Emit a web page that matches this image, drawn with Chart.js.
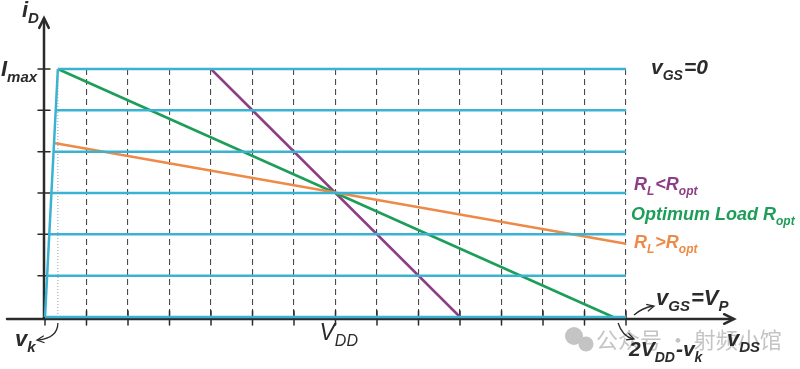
<!DOCTYPE html>
<html>
<head>
<meta charset="utf-8">
<script src="https://cdn.jsdelivr.net/npm/chart.js@4.4.0/dist/chart.umd.min.js"></script>
<style>
  html, body { margin: 0; padding: 0; background: #fff; }
  #wrap { width: 800px; height: 369px; position: relative; }
</style>
</head>
<body>
<div id="wrap"><canvas id="chart"></canvas></div>
<script>
// Chart data (vDS in grid steps, iD in grid steps)
const vdsTicks = [0, 1, 2, 3, 4, 5, 6, 7, 8, 9, 10, 11, 12, 13, 14];
const idLevels = [0, 1, 2, 3, 4, 5, 6];
const kneeStartX = [0, 0.05, 0.10, 0.16, 0.21, 0.26, 0.31];
const vk = 0.31;
const vdd = 7;
const iMax = 6;
const vdsMax = 14;

const kneeX = [0, 0.31];
const kneeY = [0, 6];
const optimumX = [0.31, 13.69];
const optimumY = [6, 0];
const lowLoadX = [4, 10];
const lowLoadY = [6, 0];
const highLoadX = [0.22, 14];
const highLoadY = [4.21, 1.77];

// Colours
const CYAN = '#3ab3d3';
const GREEN = '#1c9d58';
const PURPLE = '#8c3d86';
const ORANGE = '#ee8a47';
const AXIS = '#2b2b2b';
const FONT = '"Liberation Sans", Arial, sans-serif';

const toPoints = (xs, ys) => xs.map((x, i) => ({ x: x, y: ys[i] }));

function lineSet(data, color, width, dash) {
    return {
        data: data,
        showLine: true,
        borderColor: color,
        borderWidth: width,
        borderDash: dash || [],
        pointRadius: 0,
        fill: false,
        clip: false
    };
}

const datasets = [];
// Knee (dotted vk marker)
datasets.push(lineSet(toPoints([vk, vk], [0, iMax]), '#8aa0a8', 1, [1, 2]));
// Constant vGS curves
idLevels.forEach((lvl, i) => {
    datasets.push(lineSet(toPoints([kneeStartX[i], vdsMax], [lvl, lvl]), CYAN, 2.5));
});
datasets.push(lineSet(toPoints(kneeX, kneeY), CYAN, 2.5));
// Load lines
datasets.push(lineSet(toPoints(highLoadX, highLoadY), ORANGE, 2.5));
datasets.push(lineSet(toPoints(optimumX, optimumY), GREEN, 2.5));
datasets.push(lineSet(toPoints(lowLoadX, lowLoadY), PURPLE, 2.5));

// Draw text with subscripts: parts = [[text, sub], ...]
function drawLabel(ctx, parts, x, y, size, color, weight) {
    ctx.save();
    ctx.fillStyle = color;
    ctx.textBaseline = 'alphabetic';
    ctx.textAlign = 'left';
    let cx = x;
    parts.forEach(([txt, sub]) => {
        const s = sub ? Math.round(size * 0.68) : size;
        ctx.font = `italic ${weight} ${s}px ${FONT}`;
        ctx.fillText(txt, cx, sub ? y + size * 0.28 : y);
        cx += ctx.measureText(txt).width + (sub ? 1 : 0);
    });
    ctx.restore();
}

function arrowHead(ctx, x, y, angle, len) {
    ctx.beginPath();
    ctx.moveTo(x - len * Math.cos(angle - 0.45), y - len * Math.sin(angle - 0.45));
    ctx.lineTo(x, y);
    ctx.lineTo(x - len * Math.cos(angle + 0.45), y - len * Math.sin(angle + 0.45));
    ctx.stroke();
}

const axesPlugin = {
    id: 'axesPlugin',
    beforeDatasetsDraw(chart) {
        const ctx = chart.ctx;
        const xs = chart.scales.x, ys = chart.scales.y;
        const x0 = xs.getPixelForValue(0);
        const y0 = ys.getPixelForValue(0) + 2;
        ctx.save();
        ctx.strokeStyle = AXIS;
        ctx.lineWidth = 2.5;
        ctx.lineCap = 'round';
        // y axis with arrow
        ctx.beginPath();
        ctx.moveTo(x0 - 1, y0);
        ctx.lineTo(x0 - 1, 19);
        ctx.stroke();
        arrowHead(ctx, x0 - 1, 18, -Math.PI / 2, 11);
        // x axis with arrow
        ctx.beginPath();
        ctx.moveTo(7, y0);
        ctx.lineTo(733, y0);
        ctx.stroke();
        arrowHead(ctx, 734, y0, 0, 11);
        // ticks
        ctx.lineWidth = 1.5;
        idLevels.slice(1).forEach(v => {
            const py = ys.getPixelForValue(v);
            ctx.beginPath();
            ctx.moveTo(x0 - 7, py);
            ctx.lineTo(x0 + 5, py);
            ctx.stroke();
        });
        vdsTicks.forEach(v => {
            const px = xs.getPixelForValue(v);
            ctx.beginPath();
            ctx.moveTo(px, y0 - 8);
            ctx.lineTo(px, y0 + 6);
            ctx.stroke();
        });
        ctx.restore();
    },
    afterDraw(chart) {
        const ctx = chart.ctx;
        const xs = chart.scales.x, ys = chart.scales.y;
        const y0 = ys.getPixelForValue(0);

        // Watermark
        ctx.save();
        ctx.fillStyle = '#c4c4c4';
        ctx.beginPath(); ctx.arc(574, 336, 9, 0, Math.PI * 2); ctx.fill();
        ctx.beginPath(); ctx.arc(586, 344, 7.5, 0, Math.PI * 2); ctx.fill();
        ctx.font = '22px "Noto Sans CJK SC", sans-serif';
        ctx.textBaseline = 'middle';
        ctx.fillText('公众号 · 射频小馆', 596, 340);
        ctx.restore();

        drawLabel(ctx, [['i', false], ['D', true]], 22, 17, 22, AXIS, 'bold');
        drawLabel(ctx, [['I', false], ['max', true]], 1, 76, 22, AXIS, 'bold');
        drawLabel(ctx, [['v', false], ['k', true]], 15, 346, 22, AXIS, 'bold');
        drawLabel(ctx, [['V', false], ['DD', true]], xs.getPixelForValue(vdd) - 16, 340, 23, AXIS, 'normal');
        drawLabel(ctx, [['2V', false], ['DD', true], ['-v', false], ['k', true]], 629, 356, 21, AXIS, 'bold');
        drawLabel(ctx, [['v', false], ['GS', true], ['=V', false], ['P', true]], 656, 305, 22, AXIS, 'bold');
        drawLabel(ctx, [['v', false], ['DS', true]], 727, 346, 22, AXIS, 'bold');
        drawLabel(ctx, [['v', false], ['GS', true], ['=0', false]], 651, 74, 21, AXIS, 'bold');
        drawLabel(ctx, [['R', false], ['L', true], ['<R', false], ['opt', true]], 634, 190, 18, PURPLE, 'bold');
        drawLabel(ctx, [['Optimum Load R', false], ['opt', true]], 631, 220, 18, GREEN, 'bold');
        drawLabel(ctx, [['R', false], ['L', true], ['>R', false], ['opt', true]], 634, 248, 18, ORANGE, 'bold');

        // Curved pointer arrows
        ctx.save();
        ctx.strokeStyle = AXIS;
        ctx.lineWidth = 1.3;
        // vk pointer
        const kx = xs.getPixelForValue(vk);
        ctx.beginPath();
        ctx.moveTo(kx, y0 + 6);
        ctx.quadraticCurveTo(kx, 338, 38, 340);
        ctx.stroke();
        arrowHead(ctx, 37, 340, Math.PI - 0.1, 8);
        // 2VDD - vk pointer
        const ex = xs.getPixelForValue(optimumX[1]) + 5;
        ctx.beginPath();
        ctx.moveTo(ex, y0 + 6);
        ctx.quadraticCurveTo(ex + 4, 336, 633, 339);
        ctx.stroke();
        arrowHead(ctx, 634, 339, 0.35, 8);
        // vGS = VP pointer
        ctx.beginPath();
        ctx.moveTo(634, 315);
        ctx.quadraticCurveTo(642, 308, 653, 306);
        ctx.stroke();
        arrowHead(ctx, 654, 306, -0.25, 8);
        ctx.restore();
    }
};

new Chart(document.getElementById('chart'), {
    type: 'scatter',
    data: { datasets: datasets },
    options: {
        responsive: true,
        maintainAspectRatio: false,
        animation: false,
        layout: { padding: { left: 45, right: 174, top: 69, bottom: 52 } },
        plugins: { legend: { display: false }, tooltip: { enabled: false } },
        scales: {
            x: {
                type: 'linear',
                min: 0,
                max: vdsMax,
                ticks: { stepSize: 1, display: false },
                grid: {
                    drawTicks: false,
                    lineWidth: 1.1,
                    color: c => (c.tick && c.tick.value === 0 ? 'rgba(0,0,0,0)' : '#4a4a4a')
                },
                border: { display: false, dash: [6, 4] }
            },
            y: {
                type: 'linear',
                min: 0,
                max: iMax,
                display: false
            }
        }
    },
    plugins: [axesPlugin]
});
</script>
</body>
</html>
